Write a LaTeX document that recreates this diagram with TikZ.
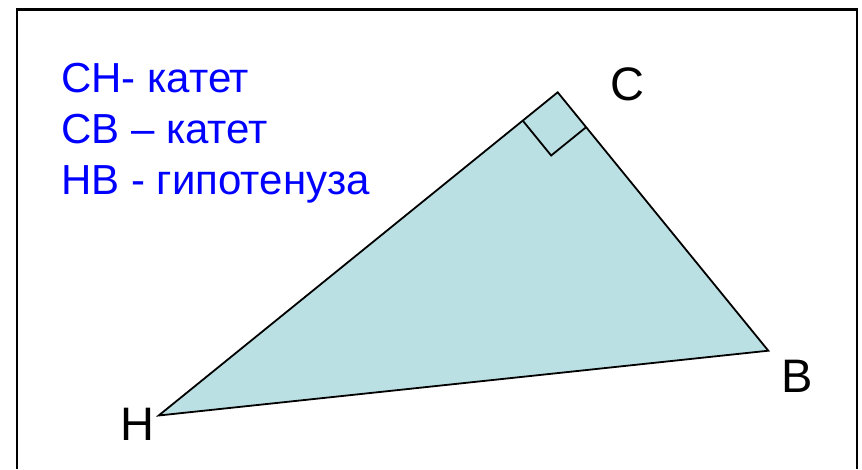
\documentclass[tikz,border=0pt]{standalone}
\usepackage{fontspec}
\setmainfont{Liberation Sans}
\usepackage{xcolor}
\usetikzlibrary{calc}
\definecolor{legfill}{RGB}{187,224,227}
\definecolor{legblue}{RGB}{0,0,255}

\begin{document}
\begin{tikzpicture}[
  x=1pt,y=-1pt,
  vlab/.style={anchor=base,inner sep=0pt,font=\fontsize{47}{56}\selectfont},
  note/.style={anchor=base west,inner sep=0pt,text=legblue,font=\fontsize{42}{50}\selectfont},
  side/.style={draw,line width=1.8pt,line join=miter}
]
\useasboundingbox (0,0) rectangle (862,469);
% frame
\draw[line width=2.6pt] (17,469) -- (17,9.5) -- (857,9.5) -- (857,469);
% vertices
\coordinate (H) at (158.7,415.5);
\coordinate (C) at (557.7,92.3);
\coordinate (B) at (768.3,350.7);
\draw[side,fill=legfill] (H) -- (C) -- (B) -- cycle;
% right angle
\coordinate (rh) at ($(C)!45pt!(H)$);
\coordinate (rb) at ($(C)!45pt!(B)$);
\coordinate (rc) at ($(rh)+(rb)-(C)$);
\draw[side] (rh) -- (rc) -- (rb);
% labels
\node[vlab] (lc) at (627,100.7) {C};
\node[vlab] (lb) at (796.7,392.3) {B};
\node[vlab] (lh) at (137,440.7) {H};
\node[note] (n1) at (61,92) {CH- катет};
\node[note] (n2) at (61,143.3) {CB – катет};
\node[note] (n3) at (61,194.3) {HB - гипотенуза};
\end{tikzpicture}
\end{document}
